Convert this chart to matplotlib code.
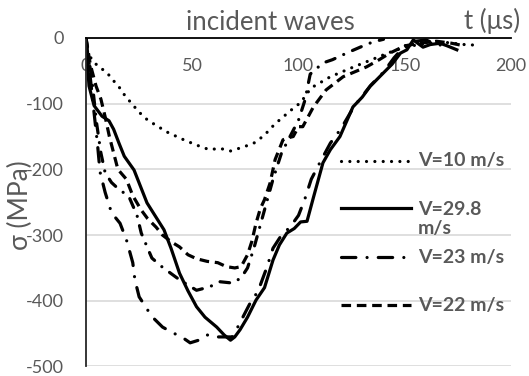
import matplotlib
matplotlib.use("Agg")
import matplotlib.pyplot as plt

plt.rcParams["font.family"] = ["Lato", "DejaVu Sans"]
plt.rcParams["axes.unicode_minus"] = False

GRAY = "#595959"

# --------------------------------------------------
# Data
# --------------------------------------------------

t_v10 = [0, 4, 7, 10, 12, 15, 19, 22, 24, 29, 38, 46, 52, 58, 63, 68, 74, 79,
         84, 87, 91, 95, 99, 101, 104, 107, 115, 126, 136, 142, 150, 160, 170,
         178, 184]
s_v10 = [-20, -38, -46, -53, -62, -72, -91, -101, -110, -125, -143, -155, -163,
         -170, -168, -172, -166, -160, -148, -137, -125, -114, -103, -99, -84,
         -74, -59, -44, -31, -23, -14, -8, -7, -10, -11]

t_v298 = [0, 1.4, 3.8, 7.5, 10.8, 13, 15.5, 18, 22.6, 28.7, 36.7, 40, 44, 48,
          52, 56, 61.5, 65, 68, 70, 72.5, 76, 80, 84, 88, 91, 94.5, 98, 101,
          104, 107, 111.5, 115, 119.5, 125.6, 130, 133.6, 140, 144, 148, 151,
          154, 158.6, 162, 166.6, 170, 174.5]
s_v298 = [-5, -73, -103, -119, -126, -139, -160, -180, -201, -251, -292, -320,
          -358, -385, -409, -425, -440, -452, -460, -455, -444, -425, -399,
          -380, -338, -315, -297, -290, -280, -279, -243, -190, -170, -150,
          -105, -90, -74, -53, -40, -23, -18, -3, -14, -10, -8, -12, -18]

t_v23 = [0, 2, 4, 5.5, 6.6, 9, 12, 16, 19, 22, 23, 25, 31, 36, 41, 45, 49, 53,
         57, 61, 65, 69, 73, 77, 81, 85, 88, 92, 96, 100, 103, 106, 110, 115,
         120, 126, 134, 140, 145, 150, 155, 160, 165, 170]
s_v23 = [0, -60, -120, -165, -204, -235, -266, -282, -307, -342, -368, -394,
         -424, -440, -449, -455, -464, -460, -452, -455, -455, -455, -430,
         -405, -385, -350, -320, -300, -288, -270, -245, -215, -190, -160,
         -138, -105, -72, -52, -30, -12, -5, -3, -10, -12]

t_v22 = [0, 2, 4.7, 7, 9, 11, 13, 15, 19, 22, 26, 29, 33, 36, 40, 44, 48, 52,
         57, 62, 66, 70, 73, 76, 78, 80, 82, 84, 86.6, 89, 92.7, 95, 97.5, 100,
         102, 107, 113, 121, 132, 138, 143, 150, 157, 165, 172, 178]
s_v22 = [0, -40, -73, -93, -120, -150, -175, -200, -215, -240, -262, -275,
         -288, -300, -310, -318, -330, -336, -340, -342, -348, -350, -348,
         -330, -310, -282, -260, -246, -221, -185, -155, -152, -150, -135,
         -135, -105, -79, -59, -44, -33, -23, -12, -8, -5, -8, -12]

# extra series without legend entry
t_extra = [0, 3, 5, 7, 9, 12, 16, 20, 24, 26, 29, 31, 36, 44, 52, 58, 63, 69,
           73, 76, 79, 82, 85, 88, 92, 96, 100, 103, 105.5, 111.5, 116, 124,
           129, 135, 140]
s_extra = [0, -70, -130, -175, -205, -220, -232, -240, -270, -297, -320, -335,
           -349, -368, -384, -379, -371, -373, -365, -350, -320, -285, -250,
           -215, -175, -150, -125, -95, -55, -38, -33, -21, -14, -6, -2]

x_ticks = [0, 50, 100, 150, 200]
y_ticks = [-500, -400, -300, -200, -100, 0]

legend_labels = ["V=10 m/s", "V=29.8\nm/s", "V=23 m/s", "V=22 m/s"]

# --------------------------------------------------
# Styles
# --------------------------------------------------

LW = 2.3
DOT = (0, (0.01, 2.6))
DASHDOT = (0, (4.5, 3.5, 0.01, 3.5))
DASHED = (0, (3, 1.8))
DASHDOT2 = (0, (3, 3, 0.01, 3))

# --------------------------------------------------
# Plot
# --------------------------------------------------

fig = plt.figure(figsize=(5.29, 3.76), dpi=100)
ax = fig.add_axes([0.1626, 0.0253, 0.8034, 0.8737])

ax.plot(t_v10, s_v10, color="black", lw=LW, ls=DOT,
        dash_capstyle="round", solid_capstyle="round")
ax.plot(t_v298, s_v298, color="black", lw=LW, ls="-")
ax.plot(t_v23, s_v23, color="black", lw=LW, ls=DASHDOT,
        dash_capstyle="round")
ax.plot(t_v22, s_v22, color="black", lw=LW, ls=DASHED)
ax.plot(t_extra, s_extra, color="black", lw=LW, ls=DASHDOT2,
        dash_capstyle="round")

ax.set_xlim(0, 200)
ax.set_ylim(-500, 0)

# ---------- axes ----------
ax.xaxis.tick_top()
ax.set_xticks(x_ticks)
ax.set_yticks(y_ticks)
ax.tick_params(axis="x", length=0, pad=-26, labelsize=13, labelcolor=GRAY)
ax.tick_params(axis="y", length=0, pad=16, labelsize=13, labelcolor=GRAY)

ax.grid(axis="y", color="#d9d9d9", lw=1.2)
ax.set_axisbelow(True)

for side in ["right", "bottom"]:
    ax.spines[side].set_visible(False)
ax.spines["top"].set_color("black")
ax.spines["top"].set_linewidth(1.3)
ax.spines["left"].set_color("#262626")
ax.spines["left"].set_linewidth(1.3)

# ---------- legend (drawn by hand, Excel style) ----------
leg_styles = [DOT, "-", DASHDOT, DASHED]
leg_caps = ["round", "butt", "round", "butt"]
leg_y = [0.626, 0.483, 0.333, 0.187]
for style, cap, y, label in zip(leg_styles, leg_caps, leg_y, legend_labels):
    ax.plot([0.60, 0.765], [y, y], transform=ax.transAxes, color="black",
            lw=LW, ls=style, dash_capstyle=cap, clip_on=False)
    if "\n" in label:
        ax.text(0.781, y + 0.02, label, transform=ax.transAxes, ha="left",
                va="top", fontsize=14, fontweight="bold", color=GRAY,
                linespacing=1.15)
    else:
        ax.text(0.781, y, label, transform=ax.transAxes, ha="left",
                va="center", fontsize=14, fontweight="bold", color=GRAY)

# ---------- titles ----------
fig.text(270 / 529, 1 - 22 / 376, "incident waves", ha="center", va="center",
         fontsize=18.5, color=GRAY)
fig.text(492 / 529, 1 - 21 / 376, "t (\u03bcs)", ha="center", va="center",
         fontsize=18.5, color=GRAY)
fig.text(20 / 529, 1 - 205 / 376, "\u03c3 (MPa)", ha="center", va="center",
         rotation=90, fontsize=19, color=GRAY)

plt.savefig("out.png", dpi=100)
plt.close()
